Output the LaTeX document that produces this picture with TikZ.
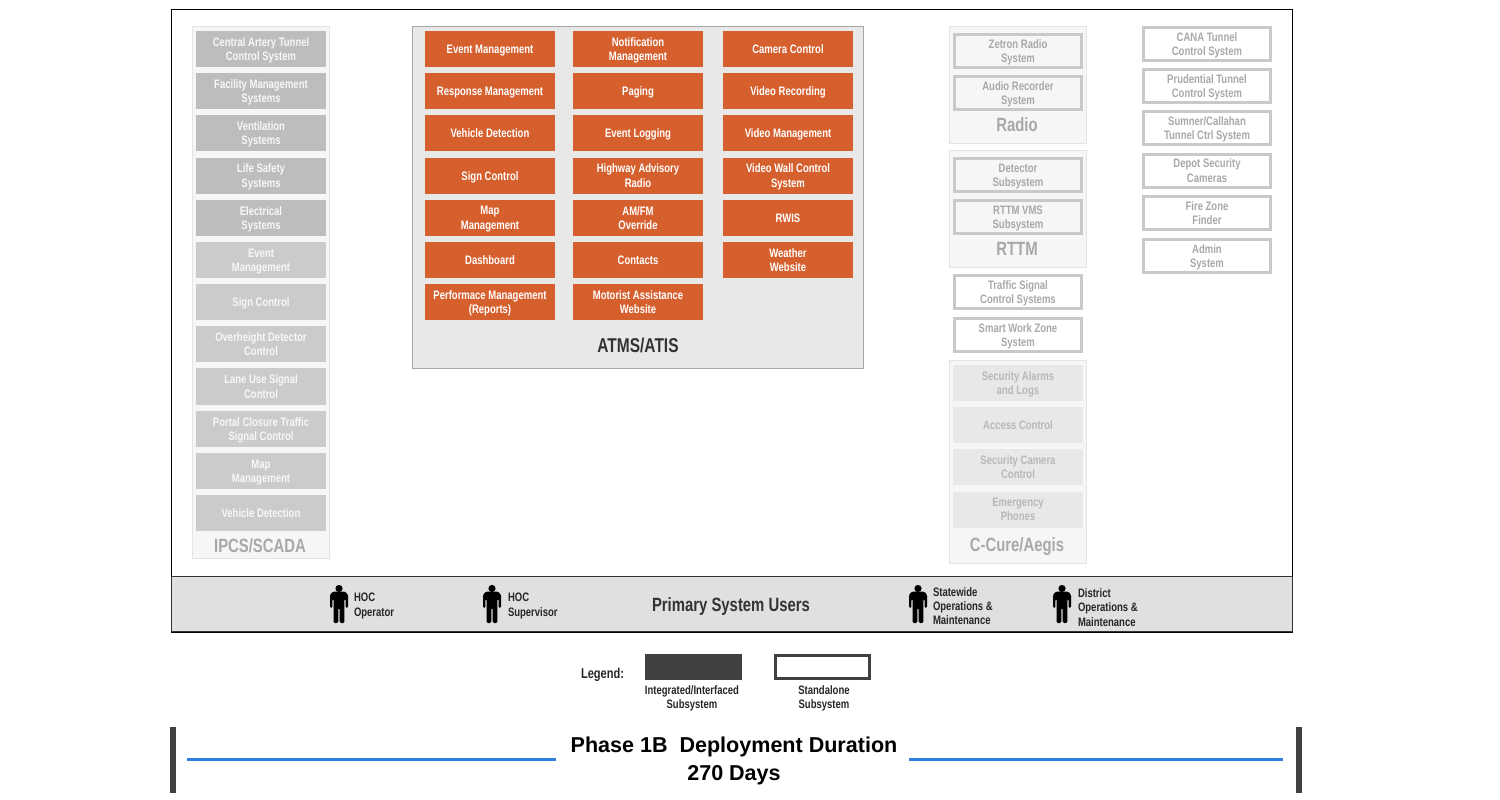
\documentclass[tikz,border=0pt]{standalone}
\usepackage{fontspec}
\setmainfont[FakeStretch=0.775]{Liberation Sans}
\newfontfamily\titlefont{Liberation Sans}
\usepackage{tikz}
\usetikzlibrary{positioning}
\usepackage{xcolor}
\definecolor{atmsOrange}{HTML}{D65F2E}
\definecolor{panelGrey}{HTML}{E8E8E8}
\definecolor{softGrey}{HTML}{F6F6F6}
\definecolor{softEdge}{HTML}{E4E4E4}
\definecolor{ipcsDark}{HTML}{BDBDBD}
\definecolor{ipcsLight}{HTML}{CBCBCB}
\definecolor{standEdge}{HTML}{C9C9C9}
\definecolor{standText}{HTML}{A8A8A8}
\definecolor{ccureText}{HTML}{B8B8B8}
\definecolor{bandGrey}{HTML}{E0E0E0}
\definecolor{legendDark}{HTML}{404040}
\definecolor{phaseBlue}{HTML}{2F80E0}
\newcommand{\boxfont}{\bfseries\fontsize{9.2}{10.6}\selectfont}
\newcommand{\headfont}{\bfseries\fontsize{14.4}{16}\selectfont}

\begin{document}
\begin{tikzpicture}[x=0.75pt,y=-0.75pt,
  node distance=4.64pt,
  every node/.style={font=\boxfont,align=center,outer sep=0pt,inner sep=0pt},
  subbox/.style={minimum width=97.5pt,minimum height=27pt,text depth=0pt},
  atmsbox/.style={subbox,fill=atmsOrange,text=white},
  ipcsbox/.style={subbox,fill=ipcsDark,text=white!97!black},
  ipcslite/.style={subbox,fill=ipcsLight,text=white!97!black},
  standbox/.style={draw=standEdge,line width=2.25pt,outer sep=1.125pt,text depth=0pt,
    minimum width=95.25pt,minimum height=24.75pt,text=standText},
  ccurebox/.style={subbox,fill=panelGrey,text=ccureText},
  softpanel/.style={draw=softEdge,fill=softGrey,line width=0.75pt},
  sectlabel/.style={font=\headfont,text=standText},
  userlabel/.style={align=left,anchor=west,text=black!85},
  person/.pic={
    \fill (0,-16.5) circle (2.7pt);
    \fill[rounded corners=1pt] (-9,3) -- (-9,-10.5) -- (-6,-13.5) -- (6,-13.5) -- (9,-10.5) -- (9,3)
      -- (6.6,3) -- (6.6,-6) -- (5.4,-6) -- (5.4,18) -- (0.7,18) -- (0.7,3) -- (-0.7,3)
      -- (-0.7,18) -- (-5.4,18) -- (-5.4,-6) -- (-6.6,-6) -- (-6.6,3) -- cycle;
  }]
  \useasboundingbox (0,0) rectangle (1500,800);

  % frame and user band
  \node (frame) [draw=black,line width=0.75pt,minimum width=840.75pt,minimum height=467.25pt] at (731.5,321) {};
  \node (band) [draw=black!80,fill=bandGrey,line width=0.75pt,minimum width=840.75pt,minimum height=41.25pt] at (731.5,604) {};

  % IPCS/SCADA
  \node (ipcs) [softpanel,minimum width=102.75pt,minimum height=399pt] at (260.5,292.25) {};
  \node (central) [ipcsbox] at (261,49) {Central Artery Tunnel\\Control System};
  \node (facility) [ipcsbox,below=of central] {Facility Management\\Systems};
  \node (ventil) [ipcsbox,below=of facility] {Ventilation\\Systems};
  \node (lifesafe) [ipcsbox,below=of ventil] {Life Safety\\Systems};
  \node (electric) [ipcsbox,below=of lifesafe] {Electrical\\Systems};
  \node (ipcsevent) [ipcslite,below=of electric] {Event\\Management};
  \node (ipcssign) [ipcslite,below=of ipcsevent] {Sign Control};
  \node (overheight) [ipcslite,below=of ipcssign] {Overheight Detector\\Control};
  \node (laneuse) [ipcslite,below=of overheight] {Lane Use Signal\\Control};
  \node (portal) [ipcslite,below=of laneuse] {Portal Closure Traffic\\Signal Control};
  \node (ipcsmap) [ipcslite,below=of portal] {Map\\Management};
  \node (ipcsveh) [ipcslite,below=of ipcsmap] {Vehicle Detection};
  \node (ipcstitle) [sectlabel] at (260,546) {IPCS/SCADA};

  % ATMS/ATIS
  \node (atms) [draw=black!35,fill=panelGrey,line width=0.75pt,minimum width=338.25pt,minimum height=256.5pt] at (637.75,197.25) {};
  \node (event) [atmsbox] at (490,49) {Event Management};
  \node (response) [atmsbox,below=of event] {Response Management};
  \node (vehicle) [atmsbox,below=of response] {Vehicle Detection};
  \node (sign) [atmsbox,below=of vehicle] {Sign Control};
  \node (map) [atmsbox,below=of sign] {Map\\Management};
  \node (dash) [atmsbox,below=of map] {Dashboard};
  \node (perf) [atmsbox,below=of dash] {Performace Management\\(Reports)};
  \node (notify) [atmsbox] at (638,49) {Notification\\Management};
  \node (paging) [atmsbox,below=of notify] {Paging};
  \node (logging) [atmsbox,below=of paging] {Event Logging};
  \node (har) [atmsbox,below=of logging] {Highway Advisory\\Radio};
  \node (amfm) [atmsbox,below=of har] {AM/FM\\Override};
  \node (contacts) [atmsbox,below=of amfm] {Contacts};
  \node (motorist) [atmsbox,below=of contacts] {Motorist Assistance\\Website};
  \node (camera) [atmsbox] at (788,49) {Camera Control};
  \node (record) [atmsbox,below=of camera] {Video Recording};
  \node (vidmgmt) [atmsbox,below=of record] {Video Management};
  \node (wall) [atmsbox,below=of vidmgmt] {Video Wall Control\\System};
  \node (rwis) [atmsbox,below=of wall] {RWIS};
  \node (weather) [atmsbox,below=of rwis] {Weather\\Website};
  \node (atmstitle) [sectlabel,text=black!80,font=\bfseries\fontsize{15}{16}\selectfont] at (638,345.5) {ATMS/ATIS};

  % Radio
  \node (radio) [softpanel,minimum width=102.75pt,minimum height=87.75pt] at (1018,84.75) {};
  \node (zetron) [standbox] at (1018,51) {Zetron Radio\\System};
  \node (audio) [standbox,below=of zetron] {Audio Recorder\\System};
  \node (radiotitle) [sectlabel] at (1017,125) {Radio};

  % RTTM
  \node (rttm) [softpanel,minimum width=102.75pt,minimum height=87.75pt] at (1018,208.75) {};
  \node (detector) [standbox] at (1018,175) {Detector\\Subsystem};
  \node (vms) [standbox,below=of detector] {RTTM VMS\\Subsystem};
  \node (rttmtitle) [sectlabel] at (1017,249) {RTTM};

  \node (traffic) [standbox] at (1018,292) {Traffic Signal\\Control Systems};
  \node (workzone) [standbox] at (1018,335) {Smart Work Zone\\System};

  % C-Cure/Aegis
  \node (ccure) [softpanel,minimum width=102.75pt,minimum height=152.25pt] at (1018,461.75) {};
  \node (alarms) [ccurebox] at (1018,383) {Security Alarms\\and Logs};
  \node (access) [ccurebox,below=of alarms] {Access Control};
  \node (seccam) [ccurebox,below=of access] {Security Camera\\Control};
  \node (phones) [ccurebox,below=of seccam] {Emergency\\Phones};
  \node (ccuretitle) [sectlabel] at (1017,547) {C-Cure/Aegis};

  % standalone column
  \node (cana) [standbox] at (1207,44) {CANA Tunnel\\Control System};
  \node (prudential) [standbox,below=of cana] {Prudential Tunnel\\Control System};
  \node (sumner) [standbox,below=of prudential] {Sumner/Callahan\\Tunnel Ctrl System};
  \node (depot) [standbox,below=of sumner] {Depot Security\\Cameras};
  \node (firezone) [standbox,below=of depot] {Fire Zone\\Finder};
  \node (admin) [standbox,below=5.6pt of firezone] {Admin\\System};

  % users
  \pic at (339,605) {person};
  \pic at (492,605) {person};
  \pic at (918,605) {person};
  \pic at (1062,605) {person};
  \node (hocop) [userlabel] at (354,606) {HOC\\Operator};
  \node (hocsup) [userlabel] at (508,606) {HOC\\Supervisor};
  \node (users) [sectlabel,text=black!80] at (731,607) {Primary System Users};
  \node (statewide) [userlabel] at (933,606) {Statewide\\Operations \&\\Maintenance};
  \node (district) [userlabel] at (1078,607.5) {District\\Operations \&\\Maintenance};

  % legend
  \node (legend) [text=black!85,font=\bfseries\fontsize{10.7}{12}\selectfont] at (602.5,675) {Legend:};
  \node (integrated) [fill=legendDark,minimum width=72.75pt,minimum height=19.5pt] at (693.5,667) {};
  \node (standalone) [draw=legendDark,line width=2.25pt,outer sep=1.125pt,minimum width=70.5pt,minimum height=17.25pt] at (822.5,667) {};
  \node (intlabel) [text=black!85] at (692,698) {Integrated/Interfaced\\Subsystem};
  \node (stdlabel) [text=black!85] at (824,698) {Standalone\\Subsystem};

  % duration
  \node (barL) [fill=legendDark,minimum width=4.5pt,minimum height=49.5pt] at (173,759.5) {};
  \node (barR) [fill=legendDark,minimum width=4.5pt,minimum height=49.5pt] at (1299,759.5) {};
  \node (phase) [font=\titlefont\bfseries\fontsize{16.15}{21}\selectfont] at (734,761) {Phase 1B\ \ Deployment Duration\\270 Days};
  \coordinate (leftS) at (187,759);
  \coordinate (leftE) at (556,759);
  \coordinate (rightS) at (909,759);
  \coordinate (rightE) at (1283,759);
  \draw[phaseBlue,line width=2.25pt] (leftS) -- (leftE);
  \draw[phaseBlue,line width=2.25pt] (rightS) -- (rightE);
\end{tikzpicture}
\end{document}
